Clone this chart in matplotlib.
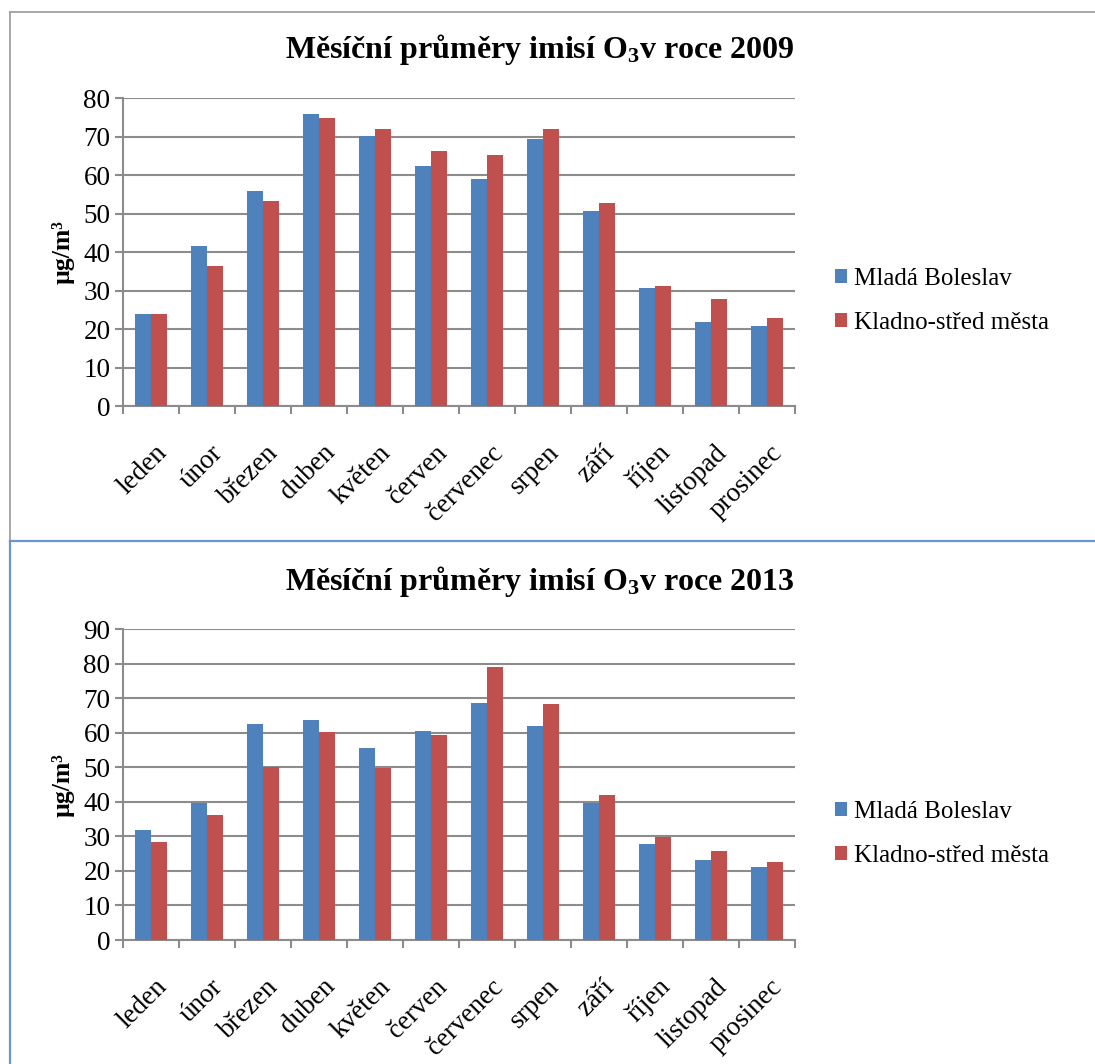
import matplotlib
matplotlib.use("Agg")
import matplotlib.pyplot as plt
import matplotlib.transforms as mtransforms
from matplotlib.patches import Patch
from matplotlib.lines import Line2D
import numpy as np

plt.rcParams["font.family"] = ["Liberation Serif", "DejaVu Serif"]
plt.rcParams["mathtext.fontset"] = "custom"
plt.rcParams["mathtext.rm"] = "Liberation Serif:bold"
plt.rcParams["mathtext.bf"] = "Liberation Serif:bold"
plt.rcParams["mathtext.it"] = "Liberation Serif:bold:italic"

months = ["leden", "únor", "březen", "duben", "květen", "červen",
          "červenec", "srpen", "září", "říjen", "listopad", "prosinec"]
series_names = ["Mladá Boleslav", "Kladno-střed města"]

mb_2009 = [23.8, 41.6, 55.8, 76.0, 70.3, 62.4, 59.1, 69.3, 50.7, 30.6, 21.8, 20.9]
kl_2009 = [23.8, 36.4, 53.2, 74.8, 71.9, 66.3, 65.2, 71.9, 52.7, 31.1, 27.8, 22.9]
mb_2013 = [31.8, 39.6, 62.5, 63.6, 55.5, 60.6, 68.6, 62.0, 39.6, 27.8, 23.2, 21.1]
kl_2013 = [28.3, 36.2, 50.0, 60.2, 49.8, 59.3, 79.1, 68.5, 41.9, 29.9, 25.8, 22.5]

titles = ["Měsíční průměry imisí O$_3$v roce 2009",
          "Měsíční průměry imisí O$_3$v roce 2013"]
y_limits = [80, 90]

BLUE = "#4F81BD"
RED = "#C0504D"
GRID = "#8C8C8C"

W, H = 1095, 1064
fig = plt.figure(figsize=(W / 100, H / 100), dpi=100)


def fx(px):
    return px / W


def fy(py):
    return 1 - py / H


# panel frames
fig.add_artist(Line2D([fx(10), fx(1100)], [fy(11.5), fy(11.5)], color="#A0A0A0", lw=1.3))
fig.add_artist(Line2D([fx(10), fx(10)], [fy(11.5), fy(541)], color="#A0A0A0", lw=1.3))
fig.add_artist(Line2D([fx(10), fx(1100)], [fy(541), fy(541)], color="#6A96CF", lw=1.6))
fig.add_artist(Line2D([fx(10), fx(10)], [fy(541), fy(1070)], color="#6A96CF", lw=1.6))

panels = [
    dict(data=(mb_2009, kl_2009), top=98.3, bottom=406, title_base=58, legend_y=301),
    dict(data=(mb_2013, kl_2013), top=629.3, bottom=940, title_base=590, legend_y=834),
]

x = np.arange(len(months))
bw = 0.28

for i, p in enumerate(panels):
    left, right = 123, 795
    ax = fig.add_axes([fx(left), fy(p["bottom"]), (right - left) / W,
                       (p["bottom"] - p["top"]) / H])
    s1, s2 = p["data"]
    ax.bar(x - bw / 2, s1, width=bw, color=BLUE, edgecolor="none", zorder=3,
           label=series_names[0])
    ax.bar(x + bw / 2, s2, width=bw, color=RED, edgecolor="none", zorder=3,
           label=series_names[1])

    ax.set_xlim(-0.5, len(months) - 0.5)
    ymax = y_limits[i]
    ax.set_ylim(0, ymax)
    ax.set_yticks(np.arange(0, ymax + 1, 10))
    ax.yaxis.grid(True, color=GRID, lw=1.5, zorder=0)
    ax.set_axisbelow(True)

    for s in ["top", "right"]:
        ax.spines[s].set_visible(False)
    for s in ["left", "bottom"]:
        ax.spines[s].set_color(GRID)
        ax.spines[s].set_linewidth(1.5)

    ax.set_xticks(np.arange(-0.5, len(months), 1.0))
    ax.set_xticklabels([])
    ax.tick_params(axis="x", length=6, width=1.5, color=GRID, direction="out")
    ax.tick_params(axis="y", length=6, width=1.5, color=GRID, direction="out",
                   labelsize=19.5, pad=3)

    # rotated month labels
    offset = mtransforms.ScaledTranslation(12 / 100, -43 / 100, fig.dpi_scale_trans)
    trans = ax.get_xaxis_transform() + offset
    for xi, m in zip(x, months):
        ax.text(xi, 0, m, transform=trans, rotation=45, rotation_mode="anchor",
                ha="right", va="center", fontsize=19.5)

    ax.set_ylabel("µg/m³", fontsize=18.5, fontweight="bold", labelpad=6)

    fig.text(fx(540), fy(p["title_base"]), titles[i], ha="center", va="baseline",
             fontsize=23, fontweight="bold")

    handles = [Patch(facecolor=BLUE, edgecolor="none"),
               Patch(facecolor=RED, edgecolor="none")]
    fig.legend(handles, series_names, loc="center left",
               bbox_to_anchor=(fx(823), fy(p["legend_y"])), frameon=False,
               fontsize=18, handlelength=0.48, handleheight=0.48,
               handletextpad=0.25, labelspacing=0.9, borderpad=0)

fig.savefig("out.png", dpi=100)
